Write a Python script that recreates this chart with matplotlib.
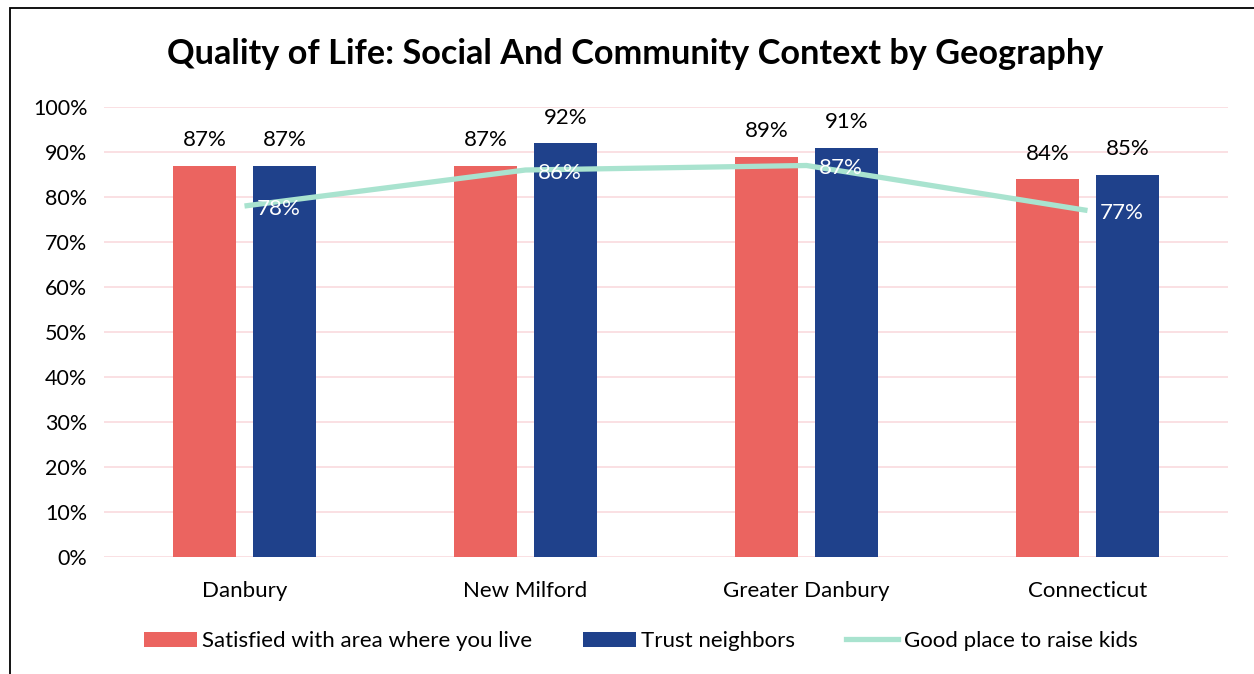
import matplotlib.pyplot as plt
import numpy as np
from matplotlib.patches import Patch, Rectangle
from matplotlib.lines import Line2D

plt.rcParams["font.family"] = ["Lato", "DejaVu Sans"]

geographies = ["Danbury", "New Milford", "Greater Danbury", "Connecticut"]
satisfied = [87, 87, 89, 84]
trust = [87, 92, 91, 85]
raise_kids = [78, 86, 87, 77]

red = "#EB6460"
blue = "#1F418B"
mint = "#A9E3CF"
grid_color = "#FADDE1"

fig = plt.figure(figsize=(12.54, 6.74), dpi=100)
ax = fig.add_axes([104 / 1254, 1 - 557 / 674, 1124 / 1254, 450 / 674])

x = np.arange(len(geographies))
width = 0.224
off = 0.142

ax.bar(x - off, satisfied, width, color=red, zorder=2)
ax.bar(x + off, trust, width, color=blue, zorder=2)
ax.plot(x, raise_kids, color=mint, linewidth=3.8, zorder=3, solid_capstyle="butt")

for xi, v in zip(x - off, satisfied):
    ax.annotate(f"{v}%", (xi, v), xytext=(0, 11), textcoords="offset points",
                ha="center", va="bottom", fontsize=16)
for xi, v in zip(x + off, trust):
    ax.annotate(f"{v}%", (xi, v), xytext=(0, 11), textcoords="offset points",
                ha="center", va="bottom", fontsize=16)
for xi, v in zip(x, raise_kids):
    ax.annotate(f"{v}%", (xi, v), xytext=(9, -2), textcoords="offset points",
                ha="left", va="center", fontsize=16, color="white", zorder=4)

ax.set_xlim(-0.5, 3.5)
ax.set_ylim(0, 100)
ax.set_yticks(range(0, 101, 10))
ax.set_yticklabels([f"{t}%" for t in range(0, 101, 10)], fontsize=15.5)
ax.set_xticks(x)
ax.set_xticklabels(geographies, fontsize=16)
ax.tick_params(length=0, pad=12)
ax.tick_params(axis="x", pad=17)
ax.grid(axis="y", color=grid_color, linewidth=1.3, zorder=0)
for s in ax.spines.values():
    s.set_visible(False)

fig.text(635 / 1254, 1 - 54 / 674, "Quality of Life: Social And Community Context by Geography",
         ha="center", va="center", fontsize=24.7, fontweight="bold")

handles = [
    Patch(facecolor=red, label="Satisfied with area where you live"),
    Patch(facecolor=blue, label="Trust neighbors"),
    Line2D([0], [0], color=mint, linewidth=3.8, label="Good place to raise kids"),
]
fig.legend(handles=handles, loc="center", bbox_to_anchor=(641 / 1254, 1 - 641 / 674),
           ncol=3, frameon=False, fontsize=16, handlelength=2.35, handleheight=0.65,
           columnspacing=2.3, handletextpad=0.25)

# outer frame
fig.add_artist(Rectangle((10 / 1254, -0.1), 1.2, 1 - 8 / 674 + 0.1, transform=fig.transFigure,
                         fill=False, edgecolor="black", linewidth=1.3))

fig.savefig("out.png", dpi=100)
